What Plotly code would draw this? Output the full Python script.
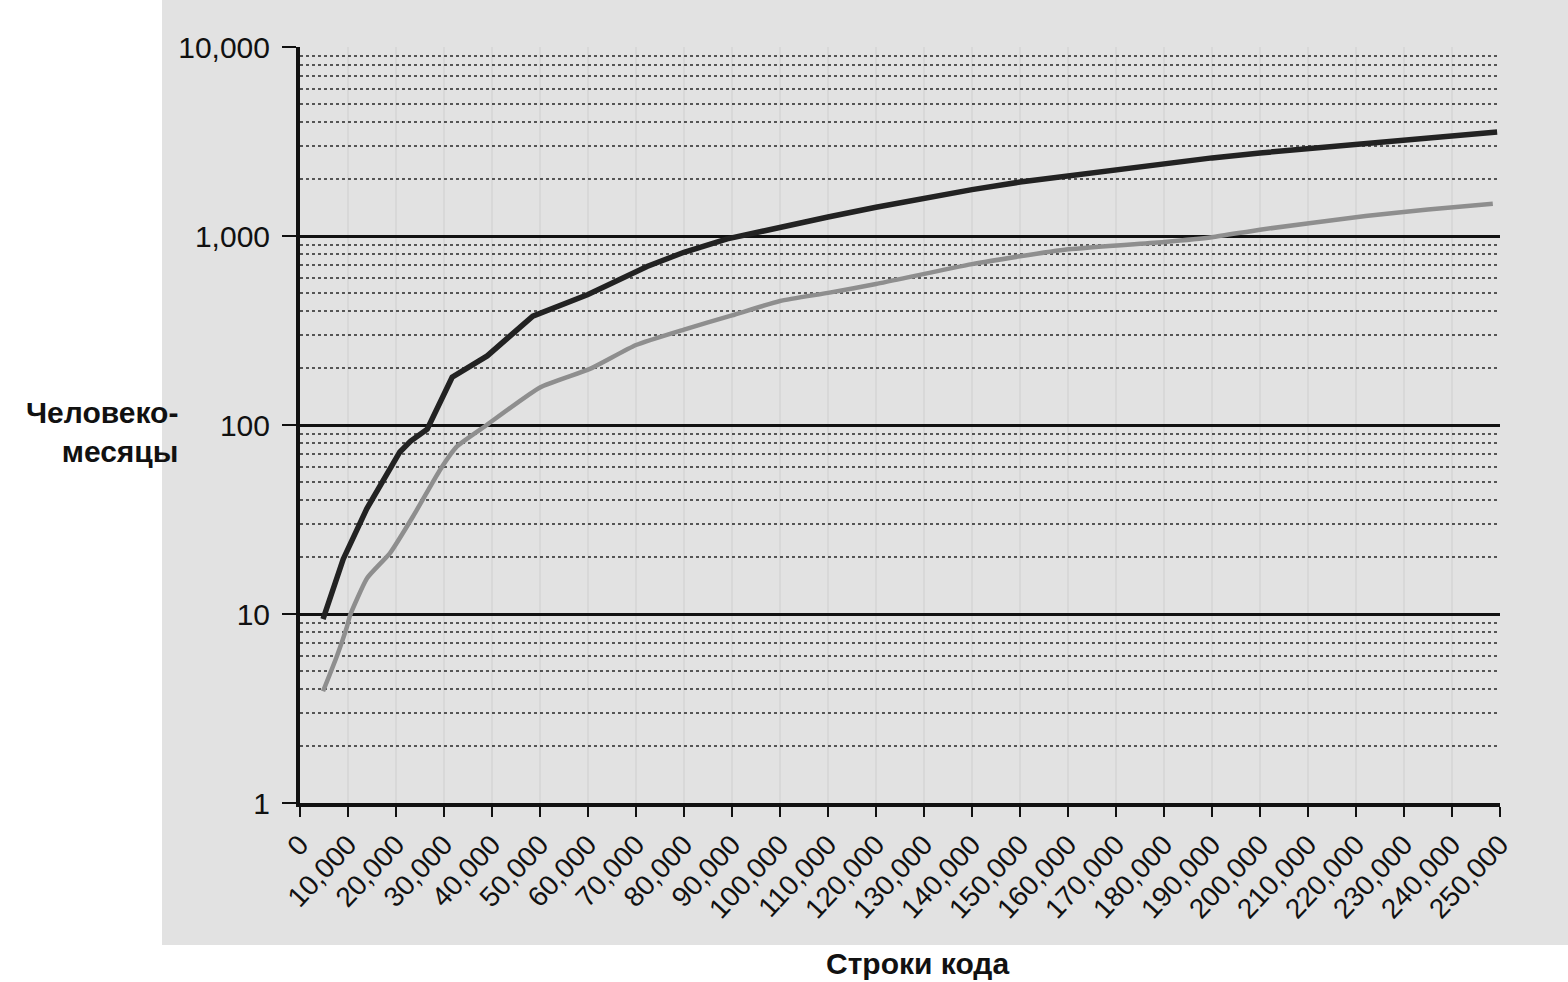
import plotly.graph_objects as go

# Lines of code (x) and person-months (y)
loc_dark = [4800, 9000, 13900, 18000, 20800, 23000, 26500, 31700, 35000, 39000, 48500, 60000,
            72300, 80000, 89000, 100000, 110000, 120000, 130000, 140000, 150000, 160000,
            170000, 180000, 190000, 200000, 210000, 220000, 230000, 240000, 249400]
pm_dark = [9.4, 19.5, 36, 54, 72, 82, 95, 179, 200, 232, 377, 490,
           690, 820, 965, 1100, 1260, 1420, 1590, 1760, 1930, 2080,
           2260, 2430, 2590, 2750, 2900, 3050, 3220, 3390, 3550]

loc_gray = [4800, 7700, 9800, 10400, 14000, 18750, 23600, 29200, 32700, 38900, 50000, 60400,
            70000, 80000, 90000, 100000, 110000, 120000, 140000, 160000, 180000,
            190000, 200000, 222000, 235000, 248500]
pm_gray = [3.9, 6, 8.6, 9.8, 15.5, 21, 33, 58, 77, 100, 158, 198,
           265, 320, 380, 453, 500, 557, 710, 850, 930,
           985, 1080, 1275, 1380, 1480]

x_ticks = list(range(0, 250001, 10000))
x_labels = [f"{v:,}" for v in x_ticks]
y_ticks = [1, 10, 100, 1000, 10000]
y_labels = ["1", "10", "100", "1,000", "10,000"]
y_minor = [m * d for d in (1, 10, 100, 1000) for m in range(2, 10)]

fig = go.Figure()
fig.add_trace(go.Scatter(x=loc_gray, y=pm_gray, mode="lines",
                         line=dict(color="#8e8e8e", width=4.5, shape="spline", smoothing=0.5),
                         showlegend=False))
fig.add_trace(go.Scatter(x=loc_dark, y=pm_dark, mode="lines",
                         line=dict(color="#222222", width=5.5), showlegend=False))

font = "Liberation Sans, Arial, sans-serif"
BG = "#e2e2e2"

fig.update_layout(
    width=1568, height=982,
    margin=dict(l=300, r=68, t=47, b=179, autoexpand=False),
    paper_bgcolor="white",
    plot_bgcolor=BG,
    font=dict(family=font, size=27, color="#111"),
    shapes=[dict(type="rect", xref="paper", yref="paper", layer="below",
                 x0=-138 / 1200, x1=1268 / 1200, y0=-142 / 756, y1=803 / 756,
                 fillcolor=BG, line=dict(width=0))],
    xaxis=dict(range=[0, 250000], tickvals=x_ticks, ticktext=x_labels,
               tickangle=-47, showgrid=True, gridcolor="rgba(0,0,0,0.045)", gridwidth=2,
               showline=True, linecolor="#111", linewidth=4, automargin=False,
               ticks="outside", ticklen=10, tickwidth=2, tickcolor="#111",
               zeroline=False,
               tickfont=dict(size=28, family=font, color="#111")),
    yaxis=dict(type="log", range=[0, 4], tickvals=y_ticks, ticktext=y_labels,
               showgrid=True, gridcolor="#111", gridwidth=2.5,
               showline=True, linecolor="#111", linewidth=4, automargin=False,
               ticks="outside", ticklen=14, tickwidth=2, tickcolor="#111",
               ticklabelstandoff=6, zeroline=False,
               tickfont=dict(size=30, family=font, color="#111")),
    annotations=[
        dict(text="Строки кода", xref="paper", yref="paper", x=(917 - 300) / 1200,
             y=-(963 - 803) / 756, showarrow=False, xanchor="center", yanchor="middle",
             font=dict(size=30, family=font, color="#111", weight="bold")),
        dict(text="Человеко-<br>месяцы", xref="paper", yref="paper",
             x=-(300 - 180) / 1200, y=(803 - 432) / 756, showarrow=False,
             xanchor="right", yanchor="middle", align="right",
             font=dict(size=30, family=font, color="#111", weight="bold")),
    ],
)
fig.update_yaxes(minor=dict(tickvals=y_minor, showgrid=True, gridcolor="#555",
                            griddash="dot", gridwidth=2, ticks=""))

fig.write_html("out.html", config={"displayModeBar": False},
               post_script="document.body.style.margin='0';")
